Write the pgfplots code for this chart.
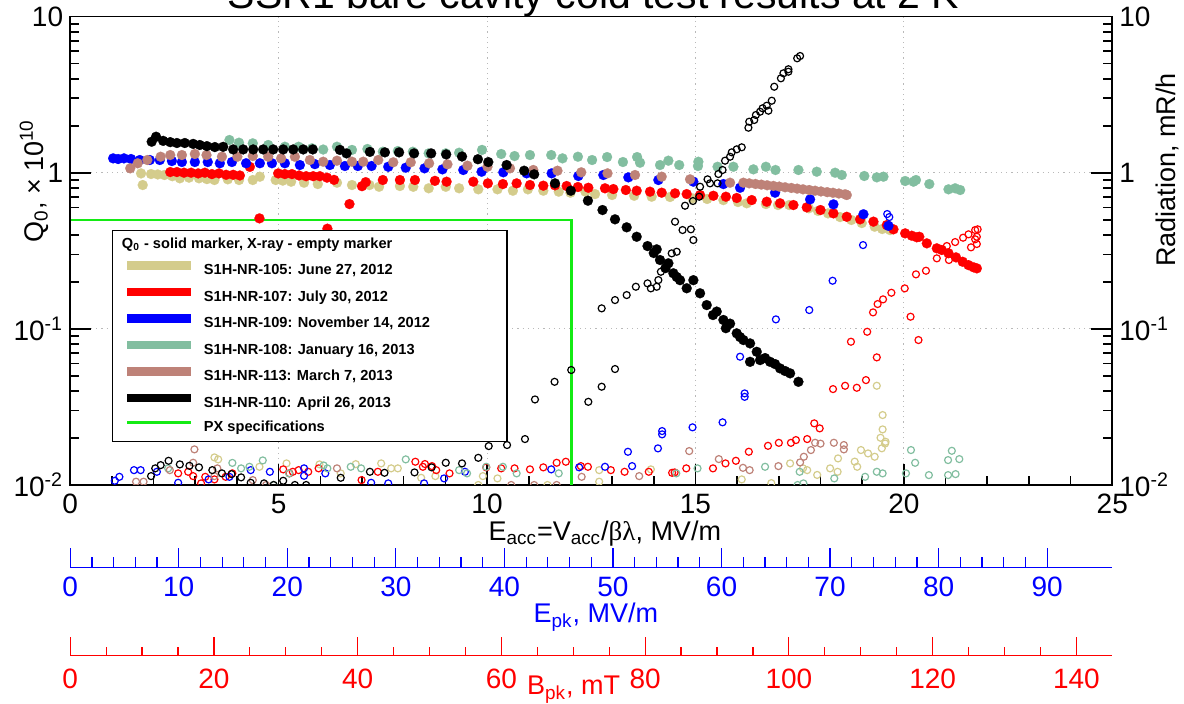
\documentclass[border=0pt]{standalone}
\usepackage{fontspec}
\setmainfont{Liberation Sans}
\newfontfamily\serifgreek{Liberation Serif}
\usepackage{pgfplots}
\pgfplotsset{compat=1.18}
\definecolor{c105}{RGB}{212,204,140}
\definecolor{c108}{RGB}{130,190,160}
\definecolor{c113}{RGB}{190,130,120}
\definecolor{pxgreen}{RGB}{20,235,20}
\pgfplotsset{
  qsol/.style={color=#1, only marks, mark=*, mark size=2.5pt, mark options={draw=#1, fill=#1, line width=0.1pt}, forget plot},
  xray/.style={color=#1, only marks, mark=o, mark size=1.75pt, mark options={draw=#1, line width=0.6pt}, forget plot},
}
\newcommand{\tfont}{\fontsize{14}{16}\selectfont}
\newcommand{\lfont}{\fontsize{13.5}{16}\selectfont}
\begin{document}
\begin{tikzpicture}
\begin{axis}[
  at={(35.1pt,109.5pt)}, anchor=south west,
  width=521.05pt, height=234.2pt, scale only axis,
  xmin=0, xmax=25, ymode=log, ymin=0.01, ymax=10,
  xtick={0,5,...,25}, minor x tick num=4,
  ytick={0.01,0.1,1,10}, yticklabels={10\textsuperscript{-2},10\textsuperscript{-1},1,10},
  xtick pos=left, ytick pos=left,
  tick align=inside, major tick length=10.5pt, minor tick length=4.5pt,
  axis line style={line width=0.9pt}, tick style={line width=0.8pt, black},
  grid=major, major grid style={gray!55, line width=0.4pt, dash pattern=on 0.6pt off 2pt},
  ticklabel style={font=\tfont},
  xticklabel style={yshift=-1pt},
  /pgf/number format/assume math mode=true,
  xlabel={E\textsubscript{acc}=V\textsubscript{acc}/{\serifgreek βλ}, MV/m},
  xlabel style={font=\lfont, at={(axis description cs:0.513,-0.104)}, anchor=center},
  ylabel={Q\textsubscript{0}, × 10\textsuperscript{10}},
  ylabel style={font=\lfont, at={(axis description cs:-0.0347,0.649)}, anchor=center},
  clip marker paths=true,
  legend image code/.code={\draw[#1] (0pt,2.6pt) -- (31.75pt,2.6pt);},
  legend style={at={(axis description cs:0.0398,0.5444)}, anchor=north west, draw=black, line width=0.6pt, fill=white,
    inner xsep=5.45pt, inner ysep=3.2pt, font=\bfseries\fontsize{7.3}{9}\selectfont,
    row sep=4.85pt, column sep=4.45pt, nodes={inner sep=0pt, text height=5.6pt, text depth=1.8pt}},
  legend cell align=left,
]
% PX specification
\addplot[pxgreen, line width=1.2pt, forget plot] coordinates {(0,0.5) (12.03,0.5) (12.03,0.005)};

% ---- S1H-NR-105 (khaki)
\addplot[xray=c105] coordinates {(3.46,0.01502) (3.55,0.01459) (4.54,0.01308) (5.19,0.01375) (5.98,0.01355) (6.49,0.01187) (6.85,0.0136) (7.46,0.01375) (7.70,0.01278) (7.86,0.01278) (8.42,0.01112) (8.76,0.0114) (9.79,0.0100) (9.90,0.0114) (10.25,0.01102) (11.45,0.0100) (12.69,0.01245) (12.69,0.0105) (13.93,0.01259) (16.11,0.01086) (16.82,0.01028) (17.27,0.01375) (17.58,0.01278) (17.68,0.01245) (17.92,0.0116) (18.23,0.01278) (18.41,0.01215) (18.42,0.0148) (18.82,0.01411) (18.88,0.01308) (18.97,0.01674) (19.14,0.01593) (19.30,0.01517) (19.35,0.0432) (19.44,0.02006) (19.47,0.01718) (19.49,0.02805) (19.49,0.0227) (19.55,0.01844) (19.56,0.01892)};
\addplot[qsol=c105] coordinates {(1.70,0.99) (1.74,0.834) (1.94,0.981) (2.10,0.975) (2.26,0.967) (2.45,0.95) (2.63,0.921) (2.85,0.93) (3.09,0.921) (3.28,0.91) (3.46,0.898) (3.78,0.907) (4.05,0.898) (4.38,0.898) (4.55,0.943) (4.93,0.898) (5.10,0.89) (5.30,0.876) (5.61,0.863) (5.94,0.846) (6.40,0.863) (6.76,0.834) (7.18,0.834) (7.41,0.813) (7.91,0.822) (8.23,0.813) (8.60,0.795) (9.01,0.813) (9.33,0.795) (9.79,0.783) (10.25,0.783) (10.62,0.767) (10.98,0.783) (11.35,0.767) (11.72,0.756) (12.0,0.745) (12.36,0.756) (12.59,0.730) (13.0,0.72) (13.53,0.712) (13.95,0.702) (14.39,0.699) (14.93,0.685) (15.28,0.679) (15.67,0.668) (16.02,0.649) (16.23,0.637) (16.69,0.630) (16.98,0.621) (17.25,0.621) (17.72,0.592) (17.94,0.569) (18.18,0.549) (18.47,0.52) (18.74,0.498) (18.99,0.476) (19.30,0.451) (19.48,0.436) (19.67,0.429)};

% ---- S1H-NR-107 (red)
\addplot[xray=red] coordinates {(2.59,0.01187) (2.83,0.01215) (2.95,0.0114) (3.14,0.01024) (3.24,0.01128) (3.46,0.01086) (3.73,0.01128) (3.89,0.01187) (5.11,0.01259) (5.26,0.01187) (5.34,0.01215) (5.48,0.01245) (5.71,0.01215) (5.96,0.01278) (6.99,0.01075) (7.38,0.01215) (8.28,0.01409) (8.46,0.01308) (8.51,0.01362) (8.68,0.01321) (8.78,0.01245) (9.10,0.01187) (9.98,0.01297) (10.34,0.01278) (10.66,0.01278) (11.03,0.01259) (11.35,0.01297) (11.67,0.01388) (11.89,0.01409) (12.25,0.01321) (12.42,0.01308) (12.97,0.01245) (13.30,0.01215) (13.88,0.01215) (14.44,0.01197) (14.50,0.01204) (14.78,0.01278) (15.42,0.01278) (15.72,0.01375) (15.97,0.01429) (16.28,0.01633) (16.74,0.01782) (17.0,0.01862) (17.29,0.01862) (17.41,0.0194) (17.68,0.01969) (17.85,0.02482) (17.98,0.02305) (18.30,0.04114) (18.59,0.04319) (18.73,0.0827) (18.87,0.04194) (19.09,0.04697) (19.12,0.0958) (19.26,0.1275) (19.35,0.06567) (19.37,0.1442) (19.50,0.1545) (19.70,0.1703) (20.02,0.1817) (20.16,0.1196) (20.29,0.2234) (20.35,0.0848) (20.53,0.2356) (20.79,0.2829) (21.03,0.3392) (21.08,0.276) (21.23,0.3597) (21.42,0.3835) (21.55,0.4031) (21.61,0.3328) (21.71,0.4295) (21.71,0.3746) (21.75,0.389) (21.75,0.3494) (21.77,0.434)};
\addplot[qsol=red] coordinates {(2.40,1.01) (2.56,1.01) (2.73,1.0) (2.90,1.0) (3.07,0.99) (3.23,1.0) (3.40,0.98) (3.57,0.99) (3.74,0.97) (3.91,0.97) (4.07,0.96) (4.31,1.09) (4.54,0.51) (4.99,0.99) (5.15,0.98) (5.32,0.98) (5.49,0.96) (5.66,0.95) (5.83,0.95) (5.99,0.95) (6.16,0.93) (6.17,0.438) (6.33,0.90) (6.70,0.63) (7.0,0.82) (7.09,0.87) (7.50,0.898) (7.91,0.898) (8.27,0.898) (8.75,0.887) (9.03,0.876) (9.67,0.876) (10.02,0.855) (10.38,0.846) (10.71,0.855) (11.03,0.834) (11.35,0.826) (11.63,0.83) (11.91,0.822) (12.18,0.81) (12.43,0.801) (12.83,0.795) (13.03,0.786) (13.33,0.775) (13.59,0.767) (13.91,0.756) (14.19,0.745) (14.51,0.738) (14.79,0.730) (15.11,0.720) (15.43,0.712) (15.73,0.702) (15.99,0.689) (16.35,0.668) (16.71,0.652) (17.03,0.637) (17.35,0.621) (17.67,0.600) (18.0,0.577) (18.31,0.549) (18.63,0.522) (18.95,0.503) (19.27,0.486) (19.59,0.462) (19.75,0.434) (20.03,0.409) (20.19,0.395) (20.31,0.386) (20.37,0.389) (20.55,0.353) (20.79,0.328) (20.91,0.320) (21.07,0.305) (21.25,0.287) (21.41,0.269) (21.55,0.256) (21.67,0.248) (21.75,0.244)};

% ---- S1H-NR-109 (blue)
\addplot[xray=blue] coordinates {(1.07,0.01064) (1.18,0.01128) (1.53,0.01245) (1.69,0.01245) (2.08,0.01215) (2.59,0.01033) (3.32,0.01086) (3.82,0.01128) (4.33,0.01245) (4.79,0.01215) (5.61,0.01278) (5.61,0.01145) (6.12,0.01187) (7.22,0.01033) (7.63,0.01024) (8.49,0.01024) (8.97,0.01102) (9.47,0.01215) (11.54,0.01259) (12.21,0.01297) (12.83,0.01308) (13.38,0.01632) (13.48,0.01321) (14.10,0.01716) (14.20,0.02215) (14.20,0.0211) (14.93,0.0234) (15.65,0.0252) (16.07,0.0663) (16.18,0.0386) (16.18,0.0367) (16.93,0.115) (17.73,0.132) (18.29,0.2033) (19.02,0.344) (19.60,0.5437) (19.65,0.52)};
\addplot[qsol=blue] coordinates {(1.03,1.236) (1.15,1.224) (1.29,1.236) (1.46,1.224) (1.67,1.206) (1.91,1.206) (2.15,1.206) (2.44,1.188) (2.68,1.171) (2.99,1.171) (3.30,1.171) (3.59,1.15) (3.88,1.171) (4.22,1.15) (4.55,1.15) (4.84,1.15) (5.15,1.15) (5.51,1.12) (5.87,1.135) (6.23,1.12) (6.59,1.104) (6.90,1.104) (7.23,1.104) (7.63,1.092) (8.05,1.077) (8.50,1.067) (8.93,1.051) (9.43,1.041) (9.87,1.015) (10.39,1.006) (10.95,0.991) (11.55,0.991) (12.19,0.953) (12.79,0.967) (13.39,0.934) (14.11,0.898) (14.95,0.876) (15.67,0.846) (16.07,0.801) (16.91,0.745) (17.75,0.675) (18.31,0.627) (19.03,0.542) (19.63,0.457)};

% ---- S1H-NR-108 (teal)
\addplot[xray=c108] coordinates {(2.35,0.01278) (3.89,0.01385) (4.10,0.01278) (4.30,0.01308) (4.62,0.01437) (4.88,0.0100) (5.25,0.01187) (6.08,0.01334) (6.17,0.01278) (6.73,0.01308) (6.98,0.01278) (8.05,0.01459) (9.33,0.01245) (9.52,0.01187) (9.98,0.01308) (10.38,0.01308) (10.71,0.01187) (11.72,0.01187) (14.54,0.01187) (15.05,0.01278) (16.67,0.01308) (17.45,0.0100) (17.50,0.01215) (17.59,0.01024) (18.33,0.01102) (19.07,0.01128) (19.35,0.01215) (19.49,0.01187) (20.05,0.01187) (20.17,0.01674) (20.27,0.01387) (20.60,0.01157) (21.06,0.01444) (21.06,0.01157) (21.15,0.01656) (21.24,0.01174) (21.33,0.01465)};
\addplot[qsol=c108] coordinates {(3.82,1.62) (4.05,1.557) (4.38,1.543) (4.75,1.505) (5.15,1.467) (5.48,1.467) (5.80,1.433) (6.07,1.408) (6.40,1.467) (6.76,1.40) (7.13,1.419) (7.50,1.363) (7.86,1.377) (8.22,1.363) (8.60,1.331) (9.01,1.331) (9.33,1.343) (9.88,1.40) (10.34,1.318) (10.66,1.279) (11.03,1.298) (11.54,1.298) (11.81,1.236) (12.18,1.266) (12.52,1.206) (12.88,1.26) (13.26,1.171) (13.60,1.26) (13.67,1.159) (14.15,1.12) (14.35,1.194) (14.61,1.12) (15.07,1.176) (15.06,1.104) (15.53,1.092) (15.91,1.092) (16.39,1.051) (16.69,1.092) (16.92,1.041) (17.47,1.041) (17.91,1.015) (18.35,1.0) (18.51,0.967) (19.05,0.953) (19.35,0.934) (19.51,0.943) (20.03,0.885) (20.23,0.876) (20.29,0.898) (20.61,0.846) (21.07,0.783) (21.23,0.795) (21.35,0.775)};

% ---- S1H-NR-113 (brown)
\addplot[xray=c113] coordinates {(1.58,0.0105) (1.76,0.0105) (2.39,0.01245) (2.95,0.01388) (2.98,0.01691) (3.46,0.0114) (3.53,0.01278) (4.38,0.01075) (4.70,0.0100) (6.40,0.01278) (10.58,0.0100) (11.13,0.0100) (11.67,0.0100) (12.27,0.01128) (13.65,0.0114) (14.85,0.01649) (15.56,0.01465) (16.14,0.01288) (16.30,0.01245) (16.99,0.01321) (17.51,0.01395) (17.60,0.01517) (17.77,0.01674) (17.87,0.01864) (18.0,0.0184) (18.32,0.01864) (18.56,0.01803) (18.56,0.01691)};
\addplot[qsol=c113] coordinates {(1.44,1.067) (1.62,1.149) (1.85,1.206) (2.17,1.266) (2.40,1.298) (2.68,1.298) (2.99,1.318) (3.27,1.298) (3.64,1.266) (4.01,1.266) (4.38,1.279) (4.75,1.266) (5.06,1.236) (5.39,1.266) (5.75,1.206) (6.07,1.176) (6.40,1.194) (6.76,1.176) (7.03,1.176) (7.39,1.206) (7.75,1.166) (8.17,1.166) (8.61,1.149) (9.05,1.132) (9.53,1.109) (10.01,1.092) (10.55,1.067) (11.11,1.041) (11.69,1.030) (12.26,1.006) (12.89,0.991) (13.55,0.967) (14.19,0.943) (14.87,0.907) (15.83,0.863) (16.15,0.863) (16.29,0.855) (16.44,0.847) (16.58,0.839) (16.72,0.831) (16.87,0.823) (17.01,0.815) (17.15,0.807) (17.30,0.799) (17.44,0.791) (17.58,0.783) (17.73,0.775) (17.87,0.767) (18.01,0.759) (18.16,0.751) (18.30,0.744) (18.44,0.736) (18.59,0.728) (18.63,0.720)};

% ---- S1H-NR-110 (black)
\addplot[xray=black] coordinates {(1.94,0.0114) (2.04,0.01278) (2.17,0.0134) (2.36,0.01429) (2.63,0.01355) (2.86,0.01327) (3.09,0.01297) (3.41,0.01245) (3.64,0.01187) (3.87,0.01174) (4.10,0.01119) (4.33,0.01033) (4.65,0.01024) (4.88,0.0100) (5.11,0.01064) (5.39,0.0100) (5.66,0.0100) (6.49,0.01112) (7.19,0.01215) (7.54,0.01197) (8.26,0.01204) (8.67,0.01297) (9.01,0.01388) (9.40,0.01375) (9.79,0.01493) (10.04,0.01775) (10.48,0.01803) (10.91,0.01969) (11.15,0.0353) (11.62,0.0458) (12.02,0.0545) (12.43,0.0341) (12.75,0.0426) (12.75,0.1353) (13.07,0.0553) (13.07,0.1529) (13.35,0.1646) (13.57,0.1861) (13.85,0.1956) (13.93,0.1817) (14.07,0.1861) (14.11,0.2054) (14.17,0.2321) (14.43,0.3045) (14.55,0.3118) (14.51,0.4856) (14.69,0.4295) (14.89,0.434) (14.95,0.3706) (14.75,0.6147) (14.94,0.6588) (15.09,0.7018) (15.11,0.8134) (15.29,0.9073) (15.35,0.855) (15.53,0.855) (15.55,0.981) (15.65,1.041) (15.71,1.194) (15.83,1.266) (15.87,1.351) (15.99,1.412) (16.11,1.455) (16.27,1.942) (16.29,2.122) (16.41,2.176) (16.45,2.343) (16.55,2.459) (16.61,2.586) (16.71,2.687) (16.75,2.496) (16.83,2.892) (16.89,3.555) (17.05,4.025) (17.11,4.334) (17.23,4.436) (17.23,4.6) (17.44,5.406) (17.51,5.592)};
\addplot[qsol=black] coordinates {(1.955,1.58) (2.06,1.70) (2.23,1.60) (2.40,1.57) (2.56,1.55) (2.75,1.55) (2.95,1.53) (3.11,1.505) (3.28,1.48) (3.47,1.46) (3.67,1.465) (3.91,1.41) (4.15,1.41) (4.39,1.41) (4.63,1.41) (4.87,1.41) (5.11,1.41) (5.35,1.41) (5.59,1.41) (5.82,1.41) (6.47,1.40) (6.63,1.33) (7.19,1.36) (7.55,1.35) (7.89,1.35) (8.25,1.33) (8.66,1.33) (9.02,1.31) (9.40,1.27) (9.78,1.22) (10.03,1.17) (10.47,1.12) (10.89,1.03) (11.13,0.977) (11.63,0.855) (12.01,0.767) (12.42,0.662) (12.77,0.577) (13.07,0.503) (13.35,0.447) (13.59,0.389) (13.85,0.339) (14.0,0.306) (14.07,0.323) (14.15,0.276) (14.28,0.245) (14.35,0.263) (14.47,0.227) (14.55,0.215) (14.63,0.205) (14.79,0.182) (14.95,0.205) (15.11,0.169) (15.27,0.142) (15.42,0.1226) (15.51,0.129) (15.67,0.114) (15.73,0.101) (15.83,0.108) (15.99,0.0936) (16.07,0.0886) (16.15,0.0848) (16.31,0.0807) (16.47,0.0713) (16.31,0.0615) (16.55,0.0631) (16.67,0.065) (16.79,0.0615) (16.91,0.0595) (17.03,0.0558) (17.15,0.0537) (17.27,0.0519) (17.47,0.0458)};

% ---- legend
\addlegendimage{empty legend}
\addlegendentry{\hspace*{-41pt}Q\textsubscript{0} - solid marker, X-ray - empty marker}
\addlegendimage{c105, line width=4.2pt}
\addlegendentry{S1H-NR-105: June 27, 2012}
\addlegendimage{red, line width=4.2pt}
\addlegendentry{S1H-NR-107: July 30, 2012}
\addlegendimage{blue, line width=4.2pt}
\addlegendentry{S1H-NR-109: November 14, 2012\hspace*{33pt}}
\addlegendimage{c108, line width=4.2pt}
\addlegendentry{S1H-NR-108: January 16, 2013}
\addlegendimage{c113, line width=4.2pt}
\addlegendentry{S1H-NR-113: March 7, 2013}
\addlegendimage{black, line width=4.2pt}
\addlegendentry{S1H-NR-110: April 26, 2013}
\addlegendimage{pxgreen, line width=1.8pt}
\addlegendentry{PX specifications}
\end{axis}

% right axis (Radiation)
\begin{axis}[
  at={(35.1pt,109.5pt)}, anchor=south west,
  width=521.05pt, height=234.2pt, scale only axis,
  xmin=0, xmax=25, ymode=log, ymin=0.01, ymax=10,
  hide x axis, ytick pos=right, yticklabel pos=right,
  ytick={0.01,0.1,1,10}, yticklabels={10\textsuperscript{-2},10\textsuperscript{-1},1,10},
  tick align=inside, major tick length=10.5pt, minor tick length=4.5pt,
  axis line style={line width=0.9pt}, tick style={line width=0.8pt, black},
  ticklabel style={font=\tfont},
  ylabel={Radiation, mR/h},
  ylabel style={font=\lfont, at={(axis description cs:1.0525,0.6725)}, anchor=center},
]
\addplot[draw=none] coordinates {(1,1)};
\end{axis}

% E_pk axis
\begin{axis}[
  at={(35.1pt,68.35pt)}, anchor=south west,
  width=521.05pt, height=10pt, scale only axis,
  xmin=0, xmax=96, ymin=0, ymax=1,
  axis x line=bottom, axis y line=none,
  x axis line style={-, blue, line width=0.6pt},
  xtick={0,10,...,90}, minor x tick num=4,
  tick align=inside, major tick length=9.5pt, minor tick length=5pt,
  xtick style={blue, line width=0.6pt},
  xticklabel style={blue, font=\tfont, yshift=-1.5pt},
  /pgf/number format/assume math mode=true,
  xlabel={E\textsubscript{pk}, MV/m},
  xlabel style={blue, font=\lfont, at={(axis description cs:0.5045,0)}, anchor=center, yshift=-25pt},
]
\addplot[draw=none] coordinates {(0,0)};
\end{axis}

% B_pk axis
\begin{axis}[
  at={(35.1pt,24.15pt)}, anchor=south west,
  width=521.05pt, height=10pt, scale only axis,
  xmin=0, xmax=145, ymin=0, ymax=1,
  axis x line=bottom, axis y line=none,
  x axis line style={-, red, line width=0.6pt},
  xtick={0,20,...,140}, minor x tick num=3,
  tick align=inside, major tick length=9.5pt, minor tick length=4.5pt,
  xtick style={red, line width=0.6pt},
  xticklabel style={red, font=\tfont, yshift=-3pt},
  /pgf/number format/assume math mode=true,
  xlabel={B\textsubscript{pk}, mT},
  xlabel style={red, font=\lfont, at={(axis description cs:0.483,0)}, anchor=center, yshift=-17pt},
]
\addplot[draw=none] coordinates {(0,0)};
\end{axis}

\node[anchor=base, font=\fontsize{20.5}{24}\selectfont] at (296.75pt,347.85pt) {SSR1 bare cavity cold test results at 2 K};

\pgfresetboundingbox
\useasboundingbox (0,0) rectangle (592pt,352pt);
\end{tikzpicture}
\end{document}
